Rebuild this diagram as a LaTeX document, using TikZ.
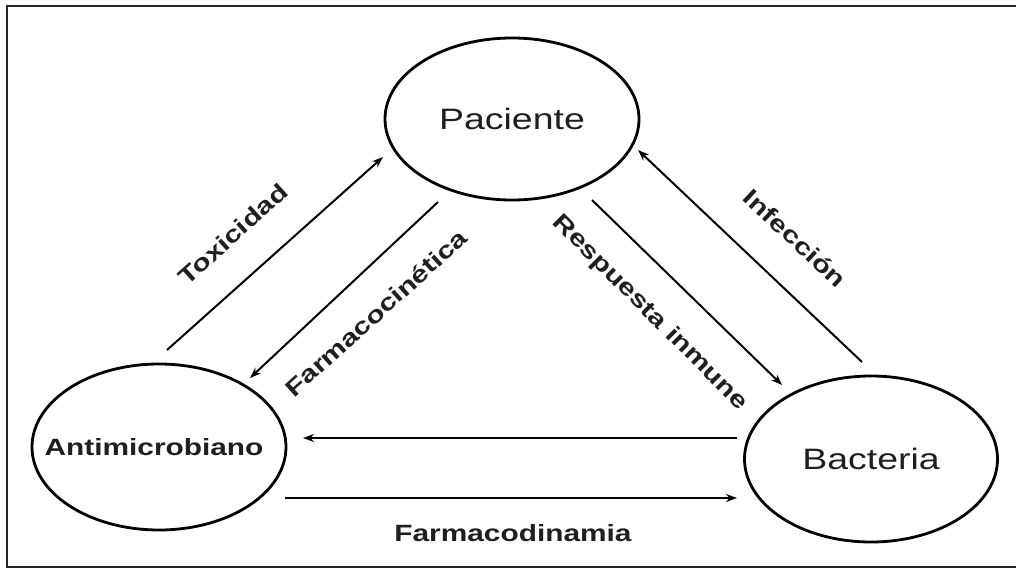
\documentclass[tikz,border=0pt]{standalone}
\usepackage{fontspec}
\newfontfamily\labfont[FakeStretch=1.27]{Liberation Sans}
\usetikzlibrary{shapes.geometric,arrows.meta}
\tikzset{
  blob/.style={ellipse, draw=black, line width=2.8pt, inner sep=0pt},
  bigtxt/.style={font=\labfont\fontsize{29.5}{34}\selectfont, text=black!88, inner sep=0pt},
  boldtxt/.style={font=\labfont\bfseries\fontsize{23.5}{28}\selectfont, text=black!88, inner sep=0pt},
  arr/.style={line width=2pt, -{Stealth[length=11pt,width=8pt]}},
  frame/.style={line width=2.8pt, black!85}
}
\begin{document}
\begin{tikzpicture}[x=1pt,y=-1pt]
\useasboundingbox (0,0) rectangle (1016,569);
\fill[white] (0,0) rectangle (1016,569);
\draw[frame] (1016,6) -- (7,6) -- (7,567) -- (1016,567);

\node[blob, minimum width=254pt, minimum height=162pt] (pac) at (512,119) {};
\node[blob, minimum width=254pt, minimum height=166pt] (anti) at (159,447) {};
\node[blob, minimum width=253pt, minimum height=166pt] (bac) at (871,459) {};

\node[bigtxt] (paclab) at (pac.center) {Paciente};
\node[boldtxt] (antilab) at ([xshift=-5pt]anti.center) {Antimicrobiano};
\node[bigtxt] (baclab) at (bac.center) {Bacteria};

\coordinate (tox1) at (167,350);
\coordinate (tox2) at (383,157);
\coordinate (pk1) at (438,202);
\coordinate (pk2) at (250,378);
\coordinate (ri1) at (592,200);
\coordinate (ri2) at (782,385);
\coordinate (inf1) at (862,362);
\coordinate (inf2) at (638,150);
\coordinate (ba1) at (737,438);
\coordinate (ba2) at (303,438);
\coordinate (pd1) at (285,498);
\coordinate (pd2) at (737,498);

\draw[arr] (tox1) -- (tox2);
\draw[arr] (pk1) -- (pk2);
\draw[arr] (ri1) -- (ri2);
\draw[arr] (inf1) -- (inf2);
\draw[arr] (ba1) -- (ba2);
\draw[arr] (pd1) -- (pd2);

\node[boldtxt, rotate=42] (toxlab) at (233,234) {Toxicidad};
\node[boldtxt, rotate=42] (pklab) at (376,313) {Farmacocinética};
\node[boldtxt, rotate=-45] (rilab) at (650,313) {Respuesta inmune};
\node[boldtxt, rotate=-43] (inflab) at (795,238) {Infección};
\node[boldtxt] (pdlab) at (513,533) {Farmacodinamia};
\end{tikzpicture}
\end{document}
